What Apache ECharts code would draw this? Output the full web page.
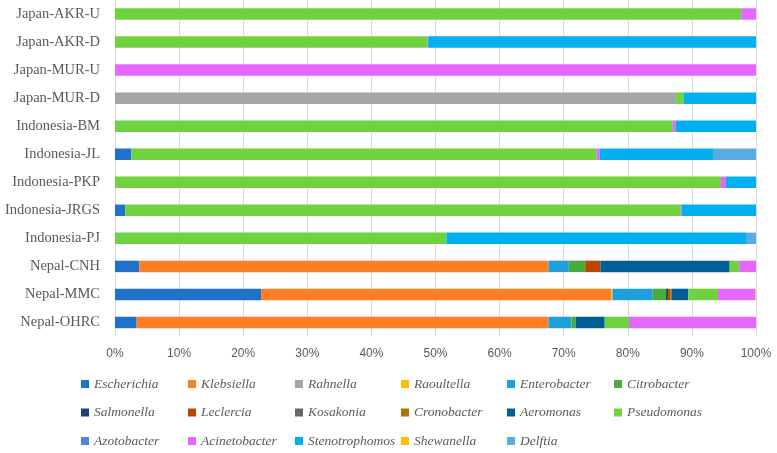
<!DOCTYPE html>
<html>
<head>
<meta charset="utf-8">
<script src="https://cdn.jsdelivr.net/npm/echarts@6/dist/echarts.min.js"></script>
<style>html,body{margin:0;padding:0;background:#fff}#c{width:777px;height:453px}</style>
</head>
<body>
<div id="c"></div>
<script>
const categories = ["Japan-AKR-U","Japan-AKR-D","Japan-MUR-U","Japan-MUR-D","Indonesia-BM","Indonesia-JL","Indonesia-PKP","Indonesia-JRGS","Indonesia-PJ","Nepal-CNH","Nepal-MMC","Nepal-OHRC"];
const xTicks = [0,10,20,30,40,50,60,70,80,90,100];

const Escherichia    = [0,0,0,0,0,2.55,0,1.6,0,3.78,22.79,3.37];
const Klebsiella     = [0,0,0,0,0,0,0,0,0,63.85,54.62,64.26];
const Rahnella       = [0,0,0,87.5,0,0,0,0,0,0,0,0];
const Raoultella     = [0,0,0,0,0,0,0,0,0,0,0.2,0];
const Enterobacter   = [0,0,0,0,0,0,0,0,0,3.17,6.27,3.58];
const Citrobacter    = [0,0,0,0,0,0,0,0,0,2.56,2.09,0.67];
const Salmonella     = [0,0,0,0,0,0,0,0,0,0,0.31,0];
const Leclercia      = [0,0,0,0,0,0,0,0,0,2.36,0.31,0];
const Kosakonia      = [0,0,0,0,0,0,0,0,0,0,0.1,0];
const Cronobacter    = [0,0,0,0,0,0,0,0,0,0,0.2,0];
const Aeromonas      = [0,0,0,0,0,0,0,0,0,20.17,2.55,4.52];
const Pseudomonas    = [97.7,48.75,0,1.25,87.03,72.6,94.53,86.68,51.7,1.48,4.63,3.78];
const Azotobacter    = [0,0,0,0,0,0,0,0,0,0,0,0];
const Acinetobacter  = [2.3,0.1,100,0,0.47,0.47,0.78,0.15,0,2.63,5.83,19.82];
const Stenotrophomos = [0,51.15,0,11.25,12.5,17.8,4.69,11.57,46.74,0,0,0];
const Shewanella     = [0,0,0,0,0,0,0,0,0,0,0.1,0];
const Delftia        = [0,0,0,0,0,6.6,0,0,1.56,0,0,0];

const seriesNames = ["Escherichia","Klebsiella","Rahnella","Raoultella","Enterobacter","Citrobacter","Salmonella","Leclercia","Kosakonia","Cronobacter","Aeromonas","Pseudomonas","Azotobacter","Acinetobacter","Stenotrophomos","Shewanella","Delftia"];
const seriesData = [Escherichia,Klebsiella,Rahnella,Raoultella,Enterobacter,Citrobacter,Salmonella,Leclercia,Kosakonia,Cronobacter,Aeromonas,Pseudomonas,Azotobacter,Acinetobacter,Stenotrophomos,Shewanella,Delftia];
const colors = ["#1f72c8","#ff7f27","#a5a5a5","#ffc000","#1e9fdc","#46ad3d","#1f3f78","#b84800","#666666","#a87800","#005f96","#6fd23f","#4a86d4","#e468ff","#00b0f0","#ffc000","#5aace0"];

const legendLeft = [81,188,295,401,507,614];
const legendTop = [377,405.5,434];

const chart = echarts.init(document.getElementById('c'), null, {renderer:'canvas'});
const option = {
  animation: false,
  backgroundColor: '#fff',
  color: colors,
  grid: {left: 115, right: 21, top: -2, height: 338.5, containLabel: false},
  xAxis: {
    type: 'value', min: 0, max: 100, interval: 10,
    axisLine: {show: false}, axisTick: {show: false},
    splitLine: {show: true, lineStyle: {color: '#d9d9d9', width: 1}},
    axisLabel: {formatter: '{value}%', color: '#595959', fontFamily: 'Liberation Sans', fontSize: 12, margin: 11}
  },
  yAxis: {
    type: 'category', data: categories, inverse: true,
    axisLine: {show: true, lineStyle: {color: '#d9d9d9'}},
    axisTick: {show: false},
    axisLabel: {color: '#595959', fontFamily: 'Liberation Serif', fontSize: 14.5, margin: 15}
  },
  legend: seriesNames.map((n, i) => ({
    data: [n], orient: 'horizontal', left: legendLeft[i % 6], top: legendTop[Math.floor(i / 6)],
    padding: 0, itemWidth: 8, itemHeight: 8, icon: 'rect', selectedMode: false,
    textStyle: {color: '#595959', fontFamily: 'Liberation Serif', fontStyle: 'italic', fontSize: 13.5, lineHeight: 14}
  })),
  series: seriesNames.map((n, i) => ({
    name: n, type: 'bar', stack: 'total', data: seriesData[i],
    barWidth: '41%', itemStyle: {color: colors[i]}
  }))
};
chart.setOption(option);
</script>
</body>
</html>
